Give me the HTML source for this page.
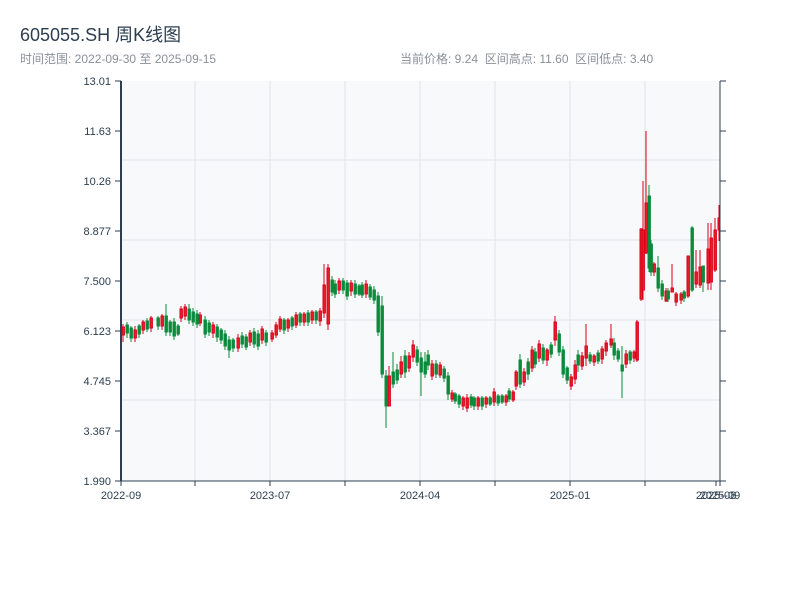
<!DOCTYPE html>
<html><head><meta charset="utf-8">
<style>
html,body{margin:0;padding:0;background:#fff;width:800px;height:600px;overflow:hidden}
text{font-family:"Liberation Sans","Noto Sans CJK SC",sans-serif}
</style></head>
<body>
<svg width="800" height="600" viewBox="0 0 800 600" xmlns="http://www.w3.org/2000/svg">
<rect x="121" y="81" width="599" height="400" fill="#f7f9fb"/>
<g stroke="#e1e5ea" stroke-width="1">
<line x1="121" y1="160" x2="720" y2="160"/><line x1="121" y1="240" x2="720" y2="240"/>
<line x1="121" y1="320" x2="720" y2="320"/><line x1="121" y1="400" x2="720" y2="400"/>
<line x1="195" y1="81" x2="195" y2="481"/><line x1="270" y1="81" x2="270" y2="481"/>
<line x1="345" y1="81" x2="345" y2="481"/><line x1="420" y1="81" x2="420" y2="481"/>
<line x1="495" y1="81" x2="495" y2="481"/><line x1="570" y1="81" x2="570" y2="481"/>
<line x1="645" y1="81" x2="645" y2="481"/>
</g>

<!-- hand-drawn weekly candles -->
<g stroke-width="1">
<!-- segment 1: 2022-09 → 2023-07 -->
<g stroke="#d9001b" fill="#e8202a">
<line x1="123" y1="324" x2="123" y2="342"/><rect x="122" y="327" width="2.4" height="8"/>
<line x1="135" y1="326" x2="135" y2="342"/><rect x="134" y="330" width="2.4" height="8"/>
<line x1="143" y1="320" x2="143" y2="334"/><rect x="142" y="322" width="2.4" height="8"/>
<line x1="151" y1="316" x2="151" y2="332"/><rect x="150" y="318" width="2.4" height="10"/>
<line x1="162" y1="314" x2="162" y2="330"/><rect x="161" y="316" width="2.4" height="10"/>
<line x1="181" y1="306" x2="181" y2="322"/><rect x="180" y="309" width="2.4" height="9"/>
<line x1="185" y1="304" x2="185" y2="320"/><rect x="184" y="307" width="2.4" height="9"/>
<line x1="200" y1="312" x2="200" y2="326"/><rect x="199" y="315" width="2.4" height="8"/>
<line x1="213" y1="322" x2="213" y2="338"/><rect x="212" y="325" width="2.4" height="8"/>
<line x1="238" y1="334" x2="238" y2="352"/><rect x="237" y="338" width="2.4" height="10"/>
<line x1="250" y1="330" x2="250" y2="346"/><rect x="249" y="333" width="2.4" height="9"/>
<line x1="262" y1="326" x2="262" y2="344"/><rect x="261" y="329" width="2.4" height="11"/>
</g>
<g stroke="#0a8a3a" fill="#0a8a3a">
<line x1="127" y1="322" x2="127" y2="338"/><rect x="126" y="325" width="2.4" height="8"/>
<line x1="131" y1="326" x2="131" y2="342"/><rect x="130" y="328" width="2.4" height="10"/>
<line x1="139" y1="324" x2="139" y2="338"/><rect x="138" y="326" width="2.4" height="8"/>
<line x1="147" y1="318" x2="147" y2="332"/><rect x="146" y="321" width="2.4" height="8"/>
<line x1="158" y1="316" x2="158" y2="330"/><rect x="157" y="318" width="2.4" height="8"/>
<line x1="166" y1="304" x2="166" y2="336"/><rect x="165" y="316" width="2.4" height="16"/>
<line x1="170" y1="320" x2="170" y2="336"/><rect x="169" y="322" width="2.4" height="10"/>
<line x1="174" y1="318" x2="174" y2="340"/><rect x="173" y="322" width="2.4" height="14"/>
<line x1="178" y1="324" x2="178" y2="336"/><rect x="177" y="326" width="2.4" height="8"/>
<line x1="189" y1="304" x2="189" y2="324"/><rect x="188" y="309" width="2.4" height="11"/>
<line x1="193" y1="308" x2="193" y2="326"/><rect x="192" y="312" width="2.4" height="10"/>
<line x1="197" y1="310" x2="197" y2="328"/><rect x="196" y="314" width="2.4" height="10"/>
<line x1="205" y1="316" x2="205" y2="338"/><rect x="204" y="320" width="2.4" height="14"/>
<line x1="209" y1="320" x2="209" y2="336"/><rect x="208" y="323" width="2.4" height="9"/>
<line x1="217" y1="324" x2="217" y2="342"/><rect x="216" y="327" width="2.4" height="10"/>
<line x1="221" y1="328" x2="221" y2="344"/><rect x="220" y="330" width="2.4" height="10"/>
<line x1="225" y1="330" x2="225" y2="350"/><rect x="224" y="334" width="2.4" height="12"/>
<line x1="229" y1="336" x2="229" y2="358"/><rect x="228" y="340" width="2.4" height="10"/>
<line x1="233" y1="338" x2="233" y2="352"/><rect x="232" y="340" width="2.4" height="8"/>
<line x1="242" y1="332" x2="242" y2="348"/><rect x="241" y="336" width="2.4" height="8"/>
<line x1="246" y1="334" x2="246" y2="350"/><rect x="245" y="337" width="2.4" height="10"/>
<line x1="254" y1="328" x2="254" y2="348"/><rect x="253" y="332" width="2.4" height="12"/>
<line x1="258" y1="330" x2="258" y2="350"/><rect x="257" y="334" width="2.4" height="12"/>
<line x1="266" y1="330" x2="266" y2="346"/><rect x="265" y="333" width="2.4" height="9"/>
</g>
<!-- segment 2: 2023-07 → 2024-04 -->
<g stroke="#d9001b" fill="#e8202a">
<line x1="272" y1="330" x2="272" y2="342"/><rect x="271" y="333" width="2.4" height="6"/>
<line x1="276" y1="322" x2="276" y2="338"/><rect x="275" y="325" width="2.4" height="10"/>
<line x1="280" y1="316" x2="280" y2="332"/><rect x="279" y="319" width="2.4" height="10"/>
<line x1="288" y1="318" x2="288" y2="332"/><rect x="287" y="320" width="2.4" height="8"/>
<line x1="296" y1="312" x2="296" y2="328"/><rect x="295" y="315" width="2.4" height="10"/>
<line x1="304" y1="312" x2="304" y2="326"/><rect x="303" y="314" width="2.4" height="8"/>
<line x1="312" y1="310" x2="312" y2="324"/><rect x="311" y="312" width="2.4" height="8"/>
<line x1="320" y1="308" x2="320" y2="326"/><rect x="319" y="311" width="2.4" height="10"/>
<line x1="324" y1="264" x2="324" y2="318"/><rect x="323" y="285" width="2.4" height="28"/>
<line x1="328" y1="264" x2="328" y2="330"/><rect x="327" y="268" width="2.4" height="56"/>
<line x1="339" y1="278" x2="339" y2="294"/><rect x="338" y="281" width="2.4" height="9"/>
<line x1="351" y1="280" x2="351" y2="296"/><rect x="350" y="283" width="2.4" height="8"/>
<line x1="366" y1="280" x2="366" y2="298"/><rect x="365" y="284" width="2.4" height="10"/>
<line x1="389" y1="366" x2="389" y2="406"/><rect x="388" y="376" width="2.4" height="30"/>
<line x1="401" y1="356" x2="401" y2="378"/><rect x="400" y="362" width="2.4" height="12"/>
<line x1="409" y1="352" x2="409" y2="372"/><rect x="408" y="356" width="2.4" height="12"/>
<line x1="413" y1="340" x2="413" y2="362"/><rect x="412" y="345" width="2.4" height="12"/>
<line x1="432" y1="360" x2="432" y2="380"/><rect x="431" y="364" width="2.4" height="12"/>
<line x1="440" y1="362" x2="440" y2="378"/><rect x="439" y="365" width="2.4" height="10"/>
</g>
<g stroke="#0a8a3a" fill="#0a8a3a">
<line x1="284" y1="318" x2="284" y2="334"/><rect x="283" y="320" width="2.4" height="10"/>
<line x1="292" y1="316" x2="292" y2="330"/><rect x="291" y="318" width="2.4" height="8"/>
<line x1="300" y1="312" x2="300" y2="326"/><rect x="299" y="314" width="2.4" height="8"/>
<line x1="308" y1="310" x2="308" y2="326"/><rect x="307" y="313" width="2.4" height="9"/>
<line x1="316" y1="310" x2="316" y2="324"/><rect x="315" y="312" width="2.4" height="8"/>
<line x1="332" y1="276" x2="332" y2="296"/><rect x="331" y="280" width="2.4" height="12"/>
<line x1="335" y1="280" x2="335" y2="298"/><rect x="334" y="284" width="2.4" height="10"/>
<line x1="343" y1="278" x2="343" y2="294"/><rect x="342" y="281" width="2.4" height="9"/>
<line x1="347" y1="280" x2="347" y2="300"/><rect x="346" y="283" width="2.4" height="13"/>
<line x1="355" y1="280" x2="355" y2="298"/><rect x="354" y="284" width="2.4" height="10"/>
<line x1="359" y1="284" x2="359" y2="296"/><rect x="358" y="286" width="2.4" height="8"/>
<line x1="362" y1="282" x2="362" y2="298"/><rect x="361" y="285" width="2.4" height="10"/>
<line x1="370" y1="284" x2="370" y2="300"/><rect x="369" y="287" width="2.4" height="10"/>
<line x1="374" y1="286" x2="374" y2="304"/><rect x="373" y="290" width="2.4" height="10"/>
<line x1="378" y1="292" x2="378" y2="336"/><rect x="377" y="296" width="2.4" height="36"/>
<line x1="382" y1="296" x2="382" y2="378"/><rect x="381" y="306" width="2.4" height="68"/>
<line x1="386" y1="370" x2="386" y2="428"/><rect x="385" y="376" width="2.4" height="30"/>
<line x1="393" y1="352" x2="393" y2="388"/><rect x="392" y="372" width="2.4" height="12"/>
<line x1="397" y1="364" x2="397" y2="384"/><rect x="396" y="370" width="2.4" height="10"/>
<line x1="405" y1="350" x2="405" y2="378"/><rect x="404" y="356" width="2.4" height="16"/>
<line x1="417" y1="346" x2="417" y2="366"/><rect x="416" y="350" width="2.4" height="12"/>
<line x1="421" y1="352" x2="421" y2="396"/><rect x="420" y="358" width="2.4" height="14"/>
<line x1="425" y1="352" x2="425" y2="378"/><rect x="424" y="362" width="2.4" height="12"/>
<line x1="428" y1="350" x2="428" y2="370"/><rect x="427" y="355" width="2.4" height="10"/>
<line x1="436" y1="360" x2="436" y2="378"/><rect x="435" y="364" width="2.4" height="10"/>
<line x1="444" y1="366" x2="444" y2="382"/><rect x="443" y="369" width="2.4" height="9"/>
<line x1="448" y1="372" x2="448" y2="400"/><rect x="447" y="376" width="2.4" height="18"/>
</g>
<!-- segment 3: 2024-04 → 2025-01 -->
<g stroke="#d9001b" fill="#e8202a">
<line x1="452" y1="390" x2="452" y2="402"/><rect x="451" y="393" width="2.4" height="6"/>
<line x1="463" y1="396" x2="463" y2="410"/><rect x="462" y="398" width="2.4" height="8"/>
<line x1="467" y1="394" x2="467" y2="412"/><rect x="466" y="398" width="2.4" height="10"/>
<line x1="478" y1="396" x2="478" y2="410"/><rect x="477" y="398" width="2.4" height="8"/>
<line x1="486" y1="396" x2="486" y2="408"/><rect x="485" y="398" width="2.4" height="6"/>
<line x1="494" y1="388" x2="494" y2="406"/><rect x="493" y="392" width="2.4" height="10"/>
<line x1="506" y1="394" x2="506" y2="406"/><rect x="505" y="396" width="2.4" height="6"/>
<line x1="513" y1="390" x2="513" y2="402"/><rect x="512" y="392" width="2.4" height="8"/>
<line x1="516" y1="370" x2="516" y2="390"/><rect x="515" y="372" width="2.4" height="14"/>
<line x1="524" y1="368" x2="524" y2="386"/><rect x="523" y="372" width="2.4" height="10"/>
<line x1="532" y1="346" x2="532" y2="372"/><rect x="531" y="350" width="2.4" height="18"/>
<line x1="539" y1="340" x2="539" y2="362"/><rect x="538" y="344" width="2.4" height="14"/>
<line x1="547" y1="348" x2="547" y2="366"/><rect x="546" y="350" width="2.4" height="10"/>
<line x1="555" y1="316" x2="555" y2="346"/><rect x="554" y="322" width="2.4" height="18"/>
</g>
<g stroke="#0a8a3a" fill="#0a8a3a">
<line x1="455" y1="392" x2="455" y2="404"/><rect x="454" y="394" width="2.4" height="7"/>
<line x1="459" y1="394" x2="459" y2="408"/><rect x="458" y="396" width="2.4" height="8"/>
<line x1="471" y1="394" x2="471" y2="408"/><rect x="470" y="397" width="2.4" height="8"/>
<line x1="474" y1="396" x2="474" y2="410"/><rect x="473" y="398" width="2.4" height="8"/>
<line x1="482" y1="396" x2="482" y2="410"/><rect x="481" y="398" width="2.4" height="8"/>
<line x1="490" y1="396" x2="490" y2="406"/><rect x="489" y="398" width="2.4" height="6"/>
<line x1="498" y1="394" x2="498" y2="406"/><rect x="497" y="396" width="2.4" height="7"/>
<line x1="502" y1="394" x2="502" y2="404"/><rect x="501" y="396" width="2.4" height="6"/>
<line x1="509" y1="388" x2="509" y2="402"/><rect x="508" y="391" width="2.4" height="8"/>
<line x1="520" y1="354" x2="520" y2="388"/><rect x="519" y="360" width="2.4" height="24"/>
<line x1="528" y1="358" x2="528" y2="380"/><rect x="527" y="362" width="2.4" height="12"/>
<line x1="535" y1="348" x2="535" y2="368"/><rect x="534" y="352" width="2.4" height="12"/>
<line x1="543" y1="344" x2="543" y2="364"/><rect x="542" y="348" width="2.4" height="12"/>
<line x1="551" y1="342" x2="551" y2="358"/><rect x="550" y="345" width="2.4" height="9"/>
<line x1="559" y1="330" x2="559" y2="356"/><rect x="558" y="334" width="2.4" height="18"/>
<line x1="563" y1="346" x2="563" y2="378"/><rect x="562" y="350" width="2.4" height="24"/>
<line x1="567" y1="366" x2="567" y2="384"/><rect x="566" y="368" width="2.4" height="12"/>
</g>
<!-- segment 4: 2025-01 → 2025-09 -->
<g stroke="#d9001b" fill="#e8202a">
<line x1="571" y1="374" x2="571" y2="390"/><rect x="570" y="377" width="2.4" height="9"/>
<line x1="575" y1="360" x2="575" y2="384"/><rect x="574" y="365" width="2.4" height="14"/>
<line x1="582" y1="352" x2="582" y2="370"/><rect x="581" y="356" width="2.4" height="10"/>
<line x1="586" y1="324" x2="586" y2="366"/><rect x="585" y="346" width="2.4" height="12"/>
<line x1="594" y1="354" x2="594" y2="366"/><rect x="593" y="356" width="2.4" height="6"/>
<line x1="602" y1="346" x2="602" y2="364"/><rect x="601" y="349" width="2.4" height="10"/>
<line x1="606" y1="340" x2="606" y2="356"/><rect x="605" y="343" width="2.4" height="8"/>
<line x1="611" y1="324" x2="611" y2="348"/><rect x="610" y="339" width="2.4" height="6"/>
<line x1="626" y1="350" x2="626" y2="368"/><rect x="625" y="354" width="2.4" height="10"/>
<line x1="634" y1="350" x2="634" y2="362"/><rect x="633" y="352" width="2.4" height="6"/>
<line x1="637" y1="320" x2="637" y2="362"/><rect x="636" y="322" width="2.4" height="38"/>
<line x1="641" y1="228" x2="641" y2="301"/><rect x="640" y="229" width="2.4" height="70"/>
<line x1="643" y1="181" x2="643" y2="300"/><rect x="642" y="230" width="2.4" height="60"/>
<line x1="646" y1="131" x2="646" y2="254"/><rect x="645" y="203" width="2.4" height="50"/>
<line x1="654" y1="262" x2="654" y2="276"/><rect x="653" y="264" width="2.4" height="8"/>
<line x1="666" y1="288" x2="666" y2="302"/><rect x="665" y="291" width="2.4" height="10"/>
<line x1="672" y1="264" x2="672" y2="292"/><rect x="671" y="288" width="2.4" height="4"/>
<line x1="676" y1="292" x2="676" y2="306"/><rect x="675" y="294" width="2.4" height="8"/>
<line x1="681" y1="292" x2="681" y2="304"/><rect x="680" y="294" width="2.4" height="6"/>
<line x1="688" y1="256" x2="688" y2="298"/><rect x="687" y="256" width="2.4" height="40"/>
<line x1="696" y1="250" x2="696" y2="288"/><rect x="695" y="272" width="2.4" height="12"/>
<line x1="700" y1="250" x2="700" y2="288"/><rect x="699" y="267" width="2.4" height="18"/>
<line x1="708" y1="223" x2="708" y2="290"/><rect x="707" y="249" width="2.4" height="34"/>
<line x1="711" y1="223" x2="711" y2="290"/><rect x="710" y="238" width="2.4" height="44"/>
<line x1="715" y1="218" x2="715" y2="272"/><rect x="714" y="230" width="2.4" height="40"/>
<line x1="719" y1="205" x2="719" y2="241"/><rect x="718" y="218" width="1.6" height="12"/>
</g>
<g stroke="#0a8a3a" fill="#0a8a3a">
<line x1="578" y1="350" x2="578" y2="372"/><rect x="577" y="355" width="2.4" height="10"/>
<line x1="590" y1="352" x2="590" y2="364"/><rect x="589" y="355" width="2.4" height="6"/>
<line x1="598" y1="350" x2="598" y2="364"/><rect x="597" y="353" width="2.4" height="8"/>
<line x1="614" y1="338" x2="614" y2="360"/><rect x="613" y="343" width="2.4" height="12"/>
<line x1="618" y1="348" x2="618" y2="362"/><rect x="617" y="351" width="2.4" height="8"/>
<line x1="622" y1="346" x2="622" y2="398"/><rect x="621" y="365" width="2.4" height="6"/>
<line x1="630" y1="350" x2="630" y2="364"/><rect x="629" y="352" width="2.4" height="8"/>
<line x1="649" y1="185" x2="649" y2="272"/><rect x="648" y="196" width="2.4" height="72"/>
<line x1="651" y1="240" x2="651" y2="276"/><rect x="650" y="244" width="2.4" height="28"/>
<line x1="658" y1="256" x2="658" y2="292"/><rect x="657" y="268" width="2.4" height="20"/>
<line x1="662" y1="280" x2="662" y2="300"/><rect x="661" y="284" width="2.4" height="12"/>
<line x1="668" y1="288" x2="668" y2="302"/><rect x="667" y="291" width="2.4" height="8"/>
<line x1="684" y1="290" x2="684" y2="302"/><rect x="683" y="292" width="2.4" height="6"/>
<line x1="692" y1="226" x2="692" y2="292"/><rect x="691" y="228" width="2.4" height="62"/>
<line x1="703" y1="266" x2="703" y2="292"/><rect x="702" y="266" width="2.4" height="16"/>
</g>
</g>

<g stroke="#2c3e50" stroke-width="1">
<line x1="121" y1="81" x2="121" y2="481" stroke-width="2"/>
<line x1="720" y1="81" x2="720" y2="481"/>
<line x1="121" y1="481" x2="720" y2="481"/>
<line x1="115" y1="81" x2="121" y2="81"/><line x1="115" y1="131" x2="121" y2="131"/>
<line x1="115" y1="181" x2="121" y2="181"/><line x1="115" y1="231" x2="121" y2="231"/>
<line x1="115" y1="281" x2="121" y2="281"/><line x1="115" y1="331" x2="121" y2="331"/>
<line x1="115" y1="381" x2="121" y2="381"/><line x1="115" y1="431" x2="121" y2="431"/>
<line x1="115" y1="481" x2="121" y2="481"/>
<line x1="720" y1="81" x2="726" y2="81"/><line x1="720" y1="131" x2="726" y2="131"/>
<line x1="720" y1="181" x2="726" y2="181"/><line x1="720" y1="231" x2="726" y2="231"/>
<line x1="720" y1="281" x2="726" y2="281"/><line x1="720" y1="331" x2="726" y2="331"/>
<line x1="720" y1="381" x2="726" y2="381"/><line x1="720" y1="431" x2="726" y2="431"/>
<line x1="720" y1="481" x2="726" y2="481"/>
<line x1="121" y1="481" x2="121" y2="486"/><line x1="195" y1="481" x2="195" y2="486"/>
<line x1="270" y1="481" x2="270" y2="486"/><line x1="345" y1="481" x2="345" y2="486"/>
<line x1="420" y1="481" x2="420" y2="486"/><line x1="495" y1="481" x2="495" y2="486"/>
<line x1="570" y1="481" x2="570" y2="486"/><line x1="645" y1="481" x2="645" y2="486"/>
<line x1="716" y1="481" x2="716" y2="486"/><line x1="720" y1="481" x2="720" y2="486"/>
</g>

<text x="20" y="41" font-size="18" fill="#2c3e50">605055.SH 周K线图</text>
<text x="20" y="63" font-size="12" fill="#8a9099">时间范围: 2022-09-30 至 2025-09-15</text>
<text x="400" y="63" font-size="12" fill="#8a9099" xml:space="preserve">当前价格: 9.24  区间高点: 11.60  区间低点: 3.40</text>
<g font-size="11" fill="#2c3e50" text-anchor="end">
<text x="111" y="85">13.01</text><text x="111" y="135">11.63</text><text x="111" y="185">10.26</text>
<text x="111" y="235">8.877</text><text x="111" y="285">7.500</text><text x="111" y="335">6.123</text>
<text x="111" y="385">4.745</text><text x="111" y="435">3.367</text><text x="111" y="485">1.990</text>
</g>
<g font-size="11" fill="#2c3e50" text-anchor="middle">
<text x="121" y="499">2022-09</text><text x="270" y="499">2023-07</text>
<text x="420" y="499">2024-04</text><text x="570" y="499">2025-01</text>
<text x="716" y="499">2025-08</text><text x="720" y="499">2025-09</text>
</g>
</svg>
</body></html>
